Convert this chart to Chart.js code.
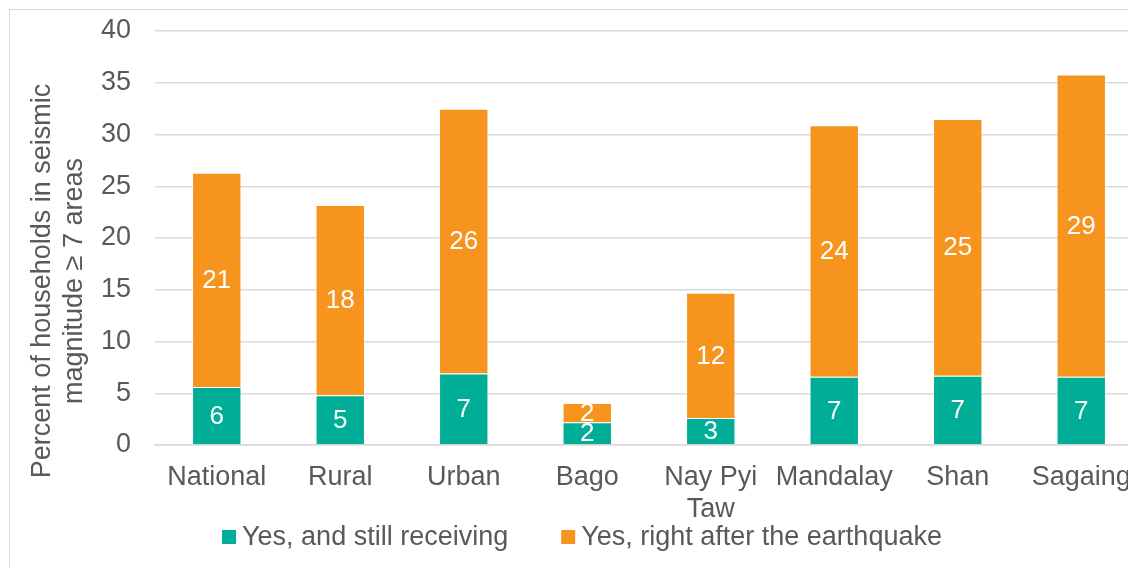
<!DOCTYPE html>
<html>
<head>
<meta charset="utf-8">
<script src="https://cdn.jsdelivr.net/npm/chart.js@4/dist/chart.umd.min.js"></script>
<style>
  html, body { margin: 0; padding: 0; background: #fff; overflow: hidden; }
  #frame { position: absolute; left: 9px; top: 9px; width: 1200px; height: 600px; border: 1px solid #d9d9d9; }
  #wrap { position: absolute; left: 0; top: 0; width: 1160px; height: 568px; }
</style>
</head>
<body>
<div id="frame"></div>
<div id="wrap"><canvas id="myChart"></canvas></div>
<script>
// categories and values
const regions = ['National', 'Rural', 'Urban', 'Bago', ['Nay Pyi', 'Taw'], 'Mandalay', 'Shan', 'Sagaing'];
const stillReceiving = [5.6, 4.8, 6.9, 2.2, 2.6, 6.6, 6.7, 6.6];
const rightAfter = [20.7, 18.4, 25.6, 1.85, 12.1, 24.3, 24.8, 29.2];
const seriesNames = ['Yes, and still receiving', 'Yes, right after the earthquake'];
const yTitle = ['Percent of households in seismic', 'magnitude \u2265 7 areas'];

const textColor = '#595959';
const gridColor = '#d9d9d9';
const font = 'Liberation Sans, Arial, sans-serif';

// white value labels in the middle of each segment
const barLabels = {
    id: 'barLabels',
    afterDatasetsDraw(chart) {
        const ctx = chart.ctx;
        ctx.save();
        ctx.fillStyle = '#fff';
        ctx.font = '26px ' + font;
        ctx.textAlign = 'center';
        ctx.textBaseline = 'middle';
        chart.data.datasets.forEach(function (ds, i) {
            chart.getDatasetMeta(i).data.forEach(function (bar, j) {
                const p = bar.getProps(['x', 'y', 'base'], true);
                ctx.fillText(Math.round(ds.data[j]), p.x, (p.y + p.base) / 2 + 1);
            });
        });
        ctx.restore();
    }
};

// y axis title (two lines) and the legend, placed like the original
const extras = {
    id: 'extras',
    afterDraw(chart) {
        const ctx = chart.ctx;
        ctx.save();
        ctx.fillStyle = textColor;
        ctx.font = '27px ' + font;
        ctx.textAlign = 'center';
        ctx.textBaseline = 'middle';
        ctx.translate(43, 281);
        ctx.rotate(-Math.PI / 2);
        yTitle.forEach(function (line, i) {
            ctx.fillText(line, 0, i * 32);
        });
        ctx.restore();

        // legend
        ctx.save();
        ctx.font = '27px ' + font;
        ctx.textBaseline = 'middle';
        ctx.textAlign = 'left';
        const box = 14, gap = 6, itemGap = 53, cy = 537;
        const items = chart.data.datasets.map(function (ds) {
            return { text: ds.label, color: ds.backgroundColor, w: box + gap + ctx.measureText(ds.label).width };
        });
        let total = itemGap * (items.length - 1);
        items.forEach(function (it) { total += it.w; });
        let x = 582 - total / 2;
        items.forEach(function (it) {
            ctx.fillStyle = it.color;
            ctx.fillRect(x, cy - box / 2, box, box);
            ctx.fillStyle = textColor;
            ctx.fillText(it.text, x + box + gap, cy + 1);
            x += it.w + itemGap;
        });
        ctx.restore();
    }
};

const ctx = document.getElementById('myChart').getContext('2d');
const myChart = new Chart(ctx, {
    type: 'bar',
    data: {
        labels: regions,
        datasets: [{
            label: seriesNames[0],
            data: stillReceiving,
            backgroundColor: '#00ae98',
            borderColor: 'rgba(255,255,255,0.5)',
            borderWidth: 1,
            barPercentage: 0.4,
            categoryPercentage: 1
        }, {
            label: seriesNames[1],
            data: rightAfter,
            backgroundColor: '#f7941e',
            borderColor: 'rgba(255,255,255,0.5)',
            borderWidth: 1,
            barPercentage: 0.4,
            categoryPercentage: 1
        }]
    },
    options: {
        responsive: true,
        maintainAspectRatio: false,
        animation: false,
        layout: { padding: { top: 31, right: 17, left: 0, bottom: 33 } },
        scales: {
            x: {
                stacked: true,
                grid: { display: false, drawTicks: false },
                border: { color: gridColor, width: 1.5 },
                ticks: {
                    color: textColor,
                    font: { family: font, size: 27 },
                    padding: 16,
                    maxRotation: 0,
                    autoSkip: false
                },
                afterFit: function (scale) { scale.height = 90; }
            },
            y: {
                stacked: true,
                min: 0,
                max: 40,
                grid: { color: gridColor, lineWidth: 1.5, drawTicks: false },
                border: { display: false },
                ticks: {
                    stepSize: 5,
                    color: textColor,
                    font: { family: font, size: 27 },
                    padding: 24
                },
                afterFit: function (scale) {
                    scale.width = 155;
                    scale.paddingTop = 0;
                    scale.paddingBottom = 0;
                }
            }
        },
        plugins: {
            legend: { display: false },
            tooltip: { enabled: false }
        }
    },
    plugins: [barLabels, extras]
});

// nudge the plot so it sits at top 31 / bottom 445 like the original
for (let k = 0; k < 3; k++) {
    const pad = myChart.options.layout.padding;
    const dt = myChart.chartArea.top - 31;
    const db = myChart.chartArea.bottom - 445;
    if (Math.abs(dt) < 0.5 && Math.abs(db) < 0.5) break;
    pad.top = Math.max(0, pad.top - dt);
    pad.bottom = Math.max(0, pad.bottom + db);
    myChart.update();
}
</script>
</body>
</html>
